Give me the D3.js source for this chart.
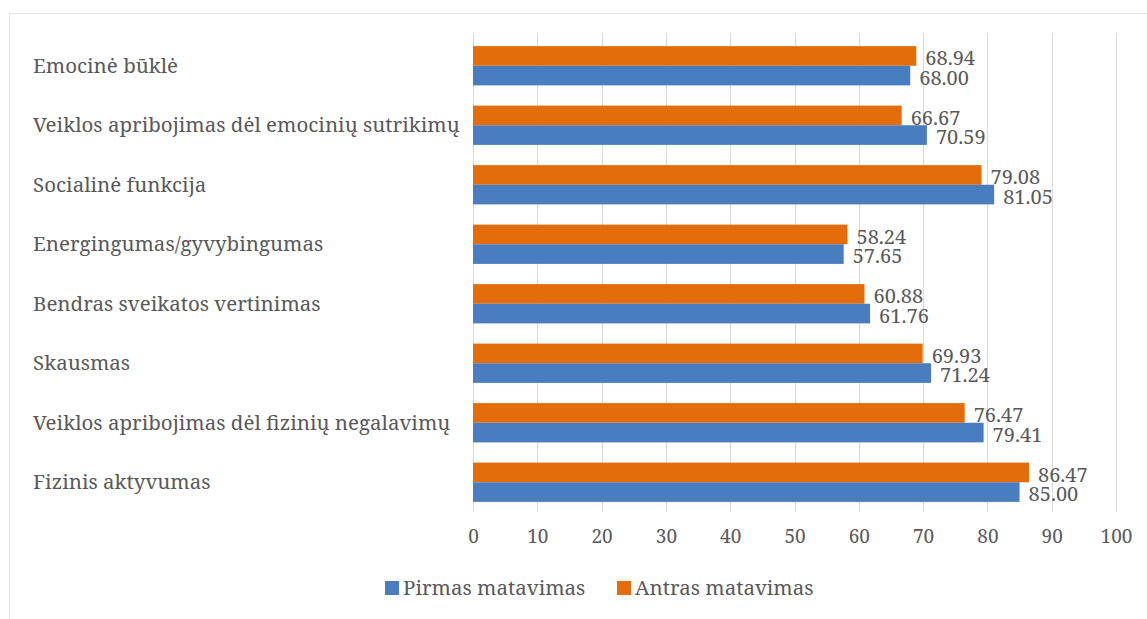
<!DOCTYPE html>
<html>
<head>
<meta charset="utf-8">
<script src="https://cdn.jsdelivr.net/npm/d3@7/dist/d3.min.js"></script>
<style>
  html, body { margin: 0; padding: 0; background: #fff; }
  svg { display: block; }
  text { font-family: "Noto Serif", "DejaVu Serif", serif; fill: #595959; }
</style>
</head>
<body>
<svg id="chart" width="1147" height="619"></svg>
<script>
// SF-36 scale names (top to bottom)
const categories = [
  "Emocinė būklė",
  "Veiklos apribojimas dėl emocinių sutrikimų",
  "Socialinė funkcija",
  "Energingumas/gyvybingumas",
  "Bendras sveikatos vertinimas",
  "Skausmas",
  "Veiklos apribojimas dėl fizinių negalavimų",
  "Fizinis aktyvumas"
];
const seriesNames = ["Antras matavimas", "Pirmas matavimas"];
const antras = [68.94, 66.67, 79.08, 58.24, 60.88, 69.93, 76.47, 86.47];
const pirmas = [68.00, 70.59, 81.05, 57.65, 61.76, 71.24, 79.41, 85.00];
const xTicks = [0, 10, 20, 30, 40, 50, 60, 70, 80, 90, 100];
const legendOrder = ["Pirmas matavimas", "Antras matavimas"];

const colors = { "Pirmas matavimas": "#4a7dbf", "Antras matavimas": "#e56c0b" };
const valuesBy = { "Antras matavimas": antras, "Pirmas matavimas": pirmas };

const svg = d3.select("#chart");

// outer frame
svg.append("path")
  .attr("d", "M9.5,619 V13.5 H1147")
  .attr("fill", "none")
  .attr("stroke", "#e3e3e3")
  .attr("stroke-width", 1);

const x = d3.scaleLinear().domain([0, 100]).range([473, 1116]);
const y = d3.scaleBand().domain(categories).range([36, 512]).paddingInner(0.34).paddingOuter(0.17);
const ySub = d3.scaleBand().domain(seriesNames).range([0, y.bandwidth()]);

// vertical gridlines
svg.append("g").selectAll("line").data(xTicks).join("line")
  .attr("x1", d => Math.round(x(d)) + 0.5)
  .attr("x2", d => Math.round(x(d)) + 0.5)
  .attr("y1", 33).attr("y2", 512)
  .attr("stroke", "#d9d9d9").attr("stroke-width", 1);

// x axis tick labels
const xAxis = d3.axisBottom(x).tickValues(xTicks).tickSize(0).tickPadding(0);
const gx = svg.append("g").attr("transform", "translate(0,536)").call(xAxis);
gx.select(".domain").remove();
gx.selectAll("text")
  .attr("font-family", "Noto Serif")
  .attr("font-size", 19)
  .attr("fill", "#595959")
  .attr("dy", "0.35em");

// category labels
svg.append("g").selectAll("text").data(categories).join("text")
  .attr("x", 33)
  .attr("y", d => y(d) + y.bandwidth() / 2)
  .attr("dy", "0.35em")
  .attr("font-size", 20.5)
  .text(d => d);

// bars and value labels
const groups = svg.append("g").selectAll("g").data(categories).join("g")
  .attr("transform", d => `translate(0,${y(d)})`);

seriesNames.forEach(s => {
  groups.append("rect")
    .attr("x", x(0))
    .attr("y", ySub(s))
    .attr("width", (d, i) => x(valuesBy[s][i]) - x(0))
    .attr("height", ySub.bandwidth())
    .attr("fill", colors[s]);
  groups.append("text")
    .attr("x", (d, i) => x(valuesBy[s][i]) + 9)
    .attr("y", ySub(s) + ySub.bandwidth() / 2 + 2)
    .attr("dy", "0.36em")
    .attr("font-size", 20)
    .text((d, i) => valuesBy[s][i].toFixed(2));
});

// legend
const legend = svg.append("g").attr("transform", "translate(385,588)");
const legendX = [0, 232];
legendOrder.forEach((s, i) => {
  const g = legend.append("g").attr("transform", `translate(${legendX[i]},0)`);
  g.append("rect").attr("x", 0).attr("y", -7).attr("width", 14).attr("height", 14).attr("fill", colors[s]);
  g.append("text").attr("x", 18).attr("y", 0).attr("dy", "0.35em").attr("font-size", 20.5).text(s);
});
</script>
</body>
</html>
